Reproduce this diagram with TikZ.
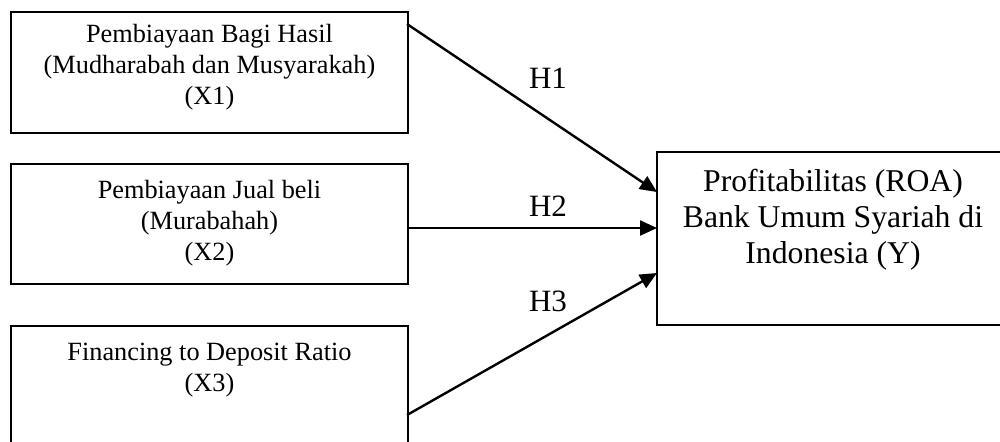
\documentclass[tikz,border=0pt]{standalone}
\usepackage{fontspec}
\setmainfont{Liberation Serif}
\usetikzlibrary{arrows.meta}
\begin{document}
\begin{tikzpicture}[x=0.5pt,y=-0.5pt,
  box/.style={draw,line width=0.9pt,rectangle,inner sep=0pt},
  smalltxt/.style={align=center,inner sep=0pt,font=\fontsize{13.15}{15.5}\selectfont},
  bigtxt/.style={align=center,inner sep=0pt,font=\fontsize{15.85}{18}\selectfont},
  hlab/.style={inner sep=0pt,font=\fontsize{15.5}{18}\selectfont},
  arr/.style={line width=1.2pt,-{Triangle[length=8.5pt,width=7.5pt]}}]
\clip (0,0) rectangle (1000,441);
% boxes
\node[box,minimum width=198.5pt,minimum height=60.5pt] (b1) at (209.5,72.5) {};
\node[box,minimum width=198.5pt,minimum height=60pt] (b2) at (209.5,224) {};
\node[box,minimum width=198.5pt,minimum height=70pt] (b3) at (209.5,396) {};
\node[box,minimum width=176pt,minimum height=86.5pt] (y) at (833,238.5) {};
% texts
\node[smalltxt] (t1) at (209.5,67) {Pembiayaan Bagi Hasil\\(Mudharabah dan Musyarakah)\\(X1)};
\node[smalltxt] (t2) at (209.5,223) {Pembiayaan Jual beli\\(Murabahah)\\(X2)};
\node[smalltxt] (t3) at (209.5,370) {Financing to Deposit Ratio\\(X3)};
\node[bigtxt] (ty) at (833,220) {Profitabilitas (ROA)\\Bank Umum Syariah di\\Indonesia (Y)};
% connector endpoints
\coordinate (s1) at (407,24);
\coordinate (s2) at (407,228);
\coordinate (s3) at (407,415);
\coordinate (e1) at (657,192);
\coordinate (e2) at (657,228);
\coordinate (e3) at (657,273);
\draw[arr] (s1) -- (e1);
\draw[arr] (s2) -- (e2);
\draw[arr] (s3) -- (e3);
% labels
\node[hlab] (h1) at (548,78) {H1};
\node[hlab] (h2) at (548,206) {H2};
\node[hlab] (h3) at (548,301) {H3};
\end{tikzpicture}
\end{document}
